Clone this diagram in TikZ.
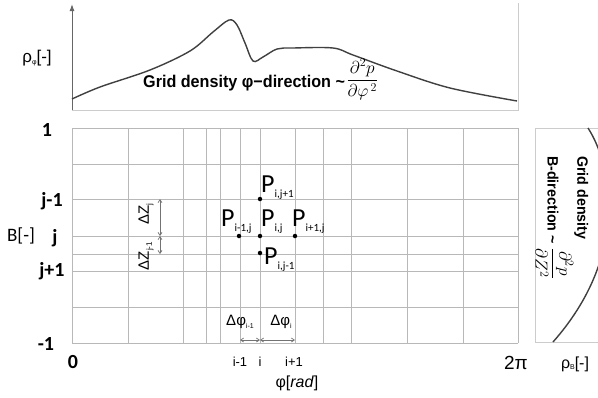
\documentclass[tikz,border=0pt]{standalone}
\usepackage{fontspec}
\setmainfont{Liberation Sans}
\newfontfamily\carl{Carlito}
\newfontfamily\narr{Liberation Sans}[FakeStretch=0.95]
\usetikzlibrary{arrows.meta}
\newcommand\Plab[1]{{\carl\fontsize{26}{26}\selectfont P}{\carl\fontsize{11}{11}\selectfont\raisebox{-5pt}{#1}}}
\begin{document}
\begin{tikzpicture}[x=1pt,y=-1pt,
  gridl/.style={draw=black!28, line width=0.8pt},
  boxl/.style={draw=black!20, line width=0.8pt},
  curvel/.style={draw=black!75, line width=1.4pt},
  axl/.style={draw=black!60, line width=1pt},
  dimarr/.style={draw=black!55, line width=0.7pt, {Straight Barb[length=3pt,width=4pt]}-{Straight Barb[length=3pt,width=4pt]}},
  dotp/.style={circle, fill=black, inner sep=0pt, minimum size=4.5pt},
  blab/.style={font=\carl\bfseries\fontsize{20}{20}\selectfont, inner sep=0pt},
  slab/.style={font=\fontsize{13}{13}\selectfont, inner sep=0pt},
  plab/.style={anchor=base west, inner sep=0pt},
  dlab/.style={font=\fontsize{15}{15}\selectfont, inner sep=0pt},
  ttl/.style={font=\narr\bfseries\fontsize{17}{17}\selectfont, inner sep=0pt}
]
\useasboundingbox (0,0) rectangle (598,397);
% ---------- top plot ----------
\draw[boxl] (72,110) -- (518,110) -- (518,3);
\draw[axl, -{Latex[length=7pt,width=5pt]}] (72,110) -- (72,4);
\node[font=\fontsize{17}{17}\selectfont, inner sep=0pt] (rhophi) at (37,58) {ρ\raisebox{-2pt}{\fontsize{7}{7}\selectfont φ}[-]};
\draw[curvel] plot[smooth, tension=0.55] coordinates {(72,99) (100,87) (150,70) (190,51) (213,32) (229,20) (237,25) (245,43) (253,61) (263,57) (277,49) (293,48) (333,48) (353,55) (397,71) (450,88) (517,101)};
\node[ttl, anchor=base west] (ttop) at (143,87) {Grid density φ−direction \textasciitilde};
\node[inner sep=0pt, anchor=west] (ftop) at ([xshift=1pt,yshift=3pt]ttop.east) {\fontsize{18}{18}\selectfont$\displaystyle\frac{\partial^2 p}{\partial\varphi^{\,2}}$};
% ---------- main grid ----------
\foreach \x in {72,128,183,206,220,240,260,295,323,351,407,463,518}
  \draw[gridl] (\x,128) -- (\x,343);
\foreach \y in {128,164,199,236,254,271,307,343}
  \draw[gridl] (72,\y) -- (518,\y);
% left labels
\node[blab] (l1) at (47,130) {1};
\node[blab] (ljm) at (52,201) {j-1};
\node[font=\carl\fontsize{19}{19}\selectfont, inner sep=0pt] (lB) at (21,236) {B[-]};
\node[blab] (lj) at (55,238) {j};
\node[blab] (ljp) at (52,271) {j+1};
\node[blab] (lm1) at (46,344) {-1};
% bottom labels
\node[blab] (l0) at (73,362) {0};
\node[font=\fontsize{19}{19}\selectfont, inner sep=0pt] (l2pi) at (516,363) {2π};
\node[font=\fontsize{16}{16}\selectfont, inner sep=0pt] (rhoB) at (575,364) {ρ\raisebox{-1pt}{\fontsize{7}{7}\selectfont B}[-]};
\node[slab] (lim) at (240,362) {i-1};
\node[slab] (li) at (260,362) {i};
\node[slab] (lip) at (294,362) {i+1};
\node[font=\fontsize{16}{16}\selectfont, inner sep=0pt] (lphi) at (297,383) {φ[\textit{rad}]};
% points
\node[dotp] (pijp) at (260,199) {};
\node[dotp] (pimj) at (239,236) {};
\node[dotp] (pij) at (260,236) {};
\node[dotp] (pipj) at (295,236) {};
\node[dotp] (pijm) at (260,253) {};
\node[plab] (tijp) at (261,192) {\Plab{i,j+1}};
\node[plab] (timj) at (221,226) {\Plab{i-1,j}};
\node[plab] (tij) at (261,226) {\Plab{i,j}};
\node[plab] (tipj) at (292,226) {\Plab{i+1,j}};
\node[plab] (tijm) at (264,264) {\Plab{i,j-1}};
% dimension arrows
\coordinate (zA) at (160,199);
\coordinate (zB) at (160,236);
\coordinate (zC) at (160,254);
\draw[dimarr] (zA) -- (zB);
\draw[dimarr] (zB) -- (zC);
\node[dlab, rotate=90] (dz1) at (146,214) {ΔZ\raisebox{-3pt}{\fontsize{8}{8}\selectfont j}};
\node[dlab, rotate=90] (dz2) at (146,256) {ΔZ\raisebox{-3pt}{\fontsize{8}{8}\selectfont j-1}};
\coordinate (pA) at (240,340);
\coordinate (pB) at (260,340);
\coordinate (pC) at (295,340);
\draw[dimarr] (pA) -- (pB);
\draw[dimarr] (pB) -- (pC);
\node[dlab] (dp1) at (240,322) {Δφ\raisebox{-3pt}{\fontsize{7}{7}\selectfont i-1}};
\node[dlab] (dp2) at (281,322) {Δφ\raisebox{-3pt}{\fontsize{7}{7}\selectfont i}};
% ---------- right panel ----------
\draw[boxl] (598,128) -- (535,128) -- (535,342) -- (598,342);
\draw[curvel] (588,128) .. controls (612,165) and (630,255) .. (553,342);
\node[rotate=-90, anchor=west, align=left, inner sep=0pt, font=\narr\bfseries\fontsize{15}{16}\selectfont] (tright) at (562,156) {Grid density\\B-direction \textasciitilde\ {\fontsize{17}{17}\selectfont$\displaystyle\frac{\partial^2 p}{\partial Z^2}$}};
\end{tikzpicture}
\end{document}
